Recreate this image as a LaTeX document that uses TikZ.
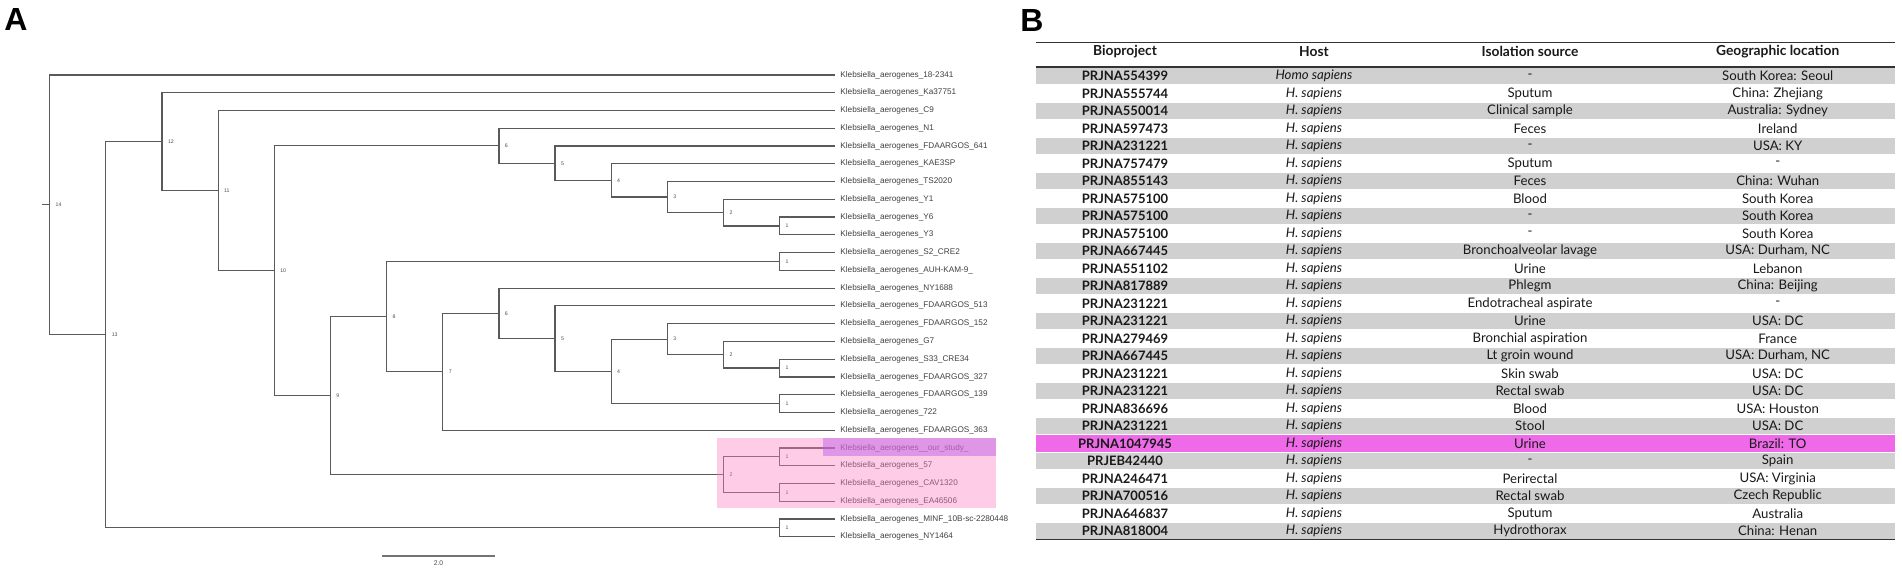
\documentclass[tikz,border=0pt]{standalone}
\usepackage{fontspec}
\setmainfont{Liberation Sans}
\newfontfamily\tabfont{Lato}
\usetikzlibrary{calc}

\definecolor{branch}{HTML}{5A5A5A}
\definecolor{rowgray}{HTML}{D0D0D0}
\definecolor{ourrow}{HTML}{EE6AE9}
\definecolor{cladepink}{RGB}{255,128,198}
\definecolor{studypurple}{RGB}{193,96,228}

% clade: name, support value, first child, second child
\newcommand\clade[4]{%
  \path ($(#3)!.5!(#4)$) coordinate (#1m);
  \coordinate (#1) at (#1m -| lev#2);
  \draw[branchline] (#1) |- (#3) (#1) |- (#4);
  \node[support] (#1lab) at (#1) {#2};
}

\begin{document}
\begin{tikzpicture}[x=0.5pt,y=-0.5pt,
  branchline/.style={draw=branch,line width=0.6pt},
  leaf/.style={anchor=west,inner sep=0pt,text=black!75,font=\fontsize{4.1}{5}\selectfont},
  support/.style={anchor=west,inner sep=0pt,xshift=2.8pt,text=black!70,font=\fontsize{2.6}{3}\selectfont},
  panel/.style={anchor=base west,inner sep=0pt,font=\fontsize{16}{18}\selectfont\bfseries},
  cell/.style={inner sep=0pt,text=black!90,font=\tabfont\fontsize{6.6}{7}\selectfont},
  idcell/.style={cell,font=\tabfont\fontsize{6.5}{7}\selectfont\bfseries},
  head/.style={cell,font=\tabfont\fontsize{6.9}{8}\selectfont\bfseries}]
\useasboundingbox (0,0) rectangle (1902,572);

\node[panel] (pA) at (4,31) {A};
\node[panel] (pB) at (1020,32) {B};

% tree levels
\foreach \k in {1,...,14}
  \coordinate (lev\k) at ({49.7+56.15*(14-\k)},0);

% leaves
\foreach \name [count=\i] in {18-2341, Ka37751, C9, N1, FDAARGOS\_641, KAE3SP, TS2020, Y1, Y6, Y3,
    S2\_CRE2, AUH-KAM-9\_, NY1688, FDAARGOS\_513, FDAARGOS\_152, G7, S33\_CRE34, FDAARGOS\_327,
    FDAARGOS\_139, 722, FDAARGOS\_363, \_our\_study\_, 57, CAV1320, EA46506, MINF\_10B-sc-2280448, NY1464} {
  \coordinate (t\i) at (835,{75+17.76*(\i-1)});
  \node[leaf] (l\i) at (840,{75+17.76*(\i-1)}) {Klebsiella\_aerogenes\_\name};
}

% clades, inner to outer
\clade{a1}{1}{t9}{t10}
\clade{a2}{2}{t8}{a1}
\clade{a3}{3}{t7}{a2}
\clade{a4}{4}{t6}{a3}
\clade{a5}{5}{t5}{a4}
\clade{a6}{6}{t4}{a5}
\clade{b1}{1}{t11}{t12}
\clade{c1}{1}{t17}{t18}
\clade{c2}{2}{t16}{c1}
\clade{c3}{3}{t15}{c2}
\clade{d1}{1}{t19}{t20}
\clade{c4}{4}{c3}{d1}
\clade{c5}{5}{t14}{c4}
\clade{c6}{6}{t13}{c5}
\clade{c7}{7}{c6}{t21}
\clade{c8}{8}{b1}{c7}
\clade{e1}{1}{t22}{t23}
\clade{f1}{1}{t24}{t25}
\clade{e2}{2}{e1}{f1}
\clade{c9}{9}{c8}{e2}
\clade{c10}{10}{a6}{c9}
\clade{c11}{11}{t3}{c10}
\clade{c12}{12}{t2}{c11}
\clade{g1}{1}{t26}{t27}
\clade{c13}{13}{c12}{g1}
\clade{c14}{14}{t1}{c13}
\draw[branchline] (c14) -- ++(-7.6,0);

% highlight of the study clade
\fill[cladepink,fill opacity=0.4] (716.7,437.7) rectangle (995.7,508.3);
\fill[studypurple,fill opacity=0.5] (822.7,437.7) rectangle (995.7,455.7);

% scale bar
\draw[draw=black!55,line width=0.6pt] (382.3,556) -- (494.8,556);
\node[inner sep=0pt,text=black!70,font=\fontsize{3.4}{4}\selectfont] (scalelab) at (438.5,563.5) {2.0};

% table
\node[head] (h1) at (1125,51.7) {Bioproject};
\node[head] (h2) at (1314,51.7) {Host};
\node[head] (h3) at (1530,51.7) {Isolation source};
\node[head] (h4) at (1777.7,51.7) {Geographic location};

\foreach \bp/\host/\src/\loc [count=\i] in {
    PRJNA554399/Homo sapiens/-/South Korea: Seoul,
    PRJNA555744/H. sapiens/Sputum/China: Zhejiang,
    PRJNA550014/H. sapiens/Clinical sample/Australia: Sydney,
    PRJNA597473/H. sapiens/Feces/Ireland,
    PRJNA231221/H. sapiens/-/USA: KY,
    PRJNA757479/H. sapiens/Sputum/-,
    PRJNA855143/H. sapiens/Feces/China: Wuhan,
    PRJNA575100/H. sapiens/Blood/South Korea,
    PRJNA575100/H. sapiens/-/South Korea,
    PRJNA575100/H. sapiens/-/South Korea,
    PRJNA667445/H. sapiens/Bronchoalveolar lavage/{USA: Durham, NC},
    PRJNA551102/H. sapiens/Urine/Lebanon,
    PRJNA817889/H. sapiens/Phlegm/China: Beijing,
    PRJNA231221/H. sapiens/Endotracheal aspirate/-,
    PRJNA231221/H. sapiens/Urine/USA: DC,
    PRJNA279469/H. sapiens/Bronchial aspiration/France,
    PRJNA667445/H. sapiens/Lt groin wound/{USA: Durham, NC},
    PRJNA231221/H. sapiens/Skin swab/USA: DC,
    PRJNA231221/H. sapiens/Rectal swab/USA: DC,
    PRJNA836696/H. sapiens/Blood/USA: Houston,
    PRJNA231221/H. sapiens/Stool/USA: DC,
    PRJNA1047945/H. sapiens/Urine/Brazil: TO,
    PRJEB42440/H. sapiens/-/Spain,
    PRJNA246471/H. sapiens/Perirectal/USA: Virginia,
    PRJNA700516/H. sapiens/Rectal swab/Czech Republic,
    PRJNA646837/H. sapiens/Sputum/Australia,
    PRJNA818004/H. sapiens/Hydrothorax/China: Henan} {
  \pgfmathsetmacro\ry{76+17.5*(\i-1)}
  \ifodd\i \fill[rowgray] (1035.7,\ry-8.4) rectangle (1895,\ry+8.4); \fi
  \ifnum\i=22 \fill[ourrow] (1035.7,\ry-8.4) rectangle (1895,\ry+8.4); \fi
  \node[idcell] (bp\i) at (1125,\ry) {\bp};
  \node[cell] (host\i) at (1314,\ry) {\textit{\host}};
  \node[cell] (src\i) at (1530,\ry) {\src};
  \node[cell] (loc\i) at (1777.7,\ry) {\loc};
}

\draw[line width=0.8pt,black!80] (1035.7,42.7) -- (1895,42.7);
\draw[line width=0.8pt,black!80] (1035.7,67) -- (1895,67);
\draw[line width=0.8pt,black!80] (1035.7,539.6) -- (1895,539.6);
\end{tikzpicture}
\end{document}
